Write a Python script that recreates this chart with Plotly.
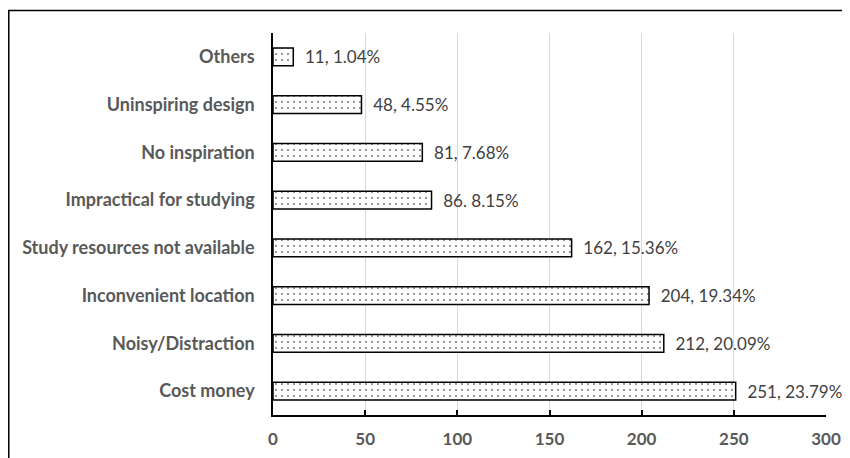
import plotly.graph_objects as go

categories = ["Cost money", "Noisy/Distraction", "Inconvenient location",
              "Study resources not available", "Impractical for studying",
              "No inspiration", "Uninspiring design", "Others"]
counts = [251, 212, 204, 162, 86, 81, 48, 11]
labels = ["251, 23.79%", "212, 20.09%", "204, 19.34%", "162, 15.36%",
          "86. 8.15%", "81, 7.68%", "48, 4.55%", "11, 1.04%"]
x_ticks = [0, 50, 100, 150, 200, 250, 300]

FONT = "Lato"

fig = go.Figure(go.Bar(
    y=categories, x=counts, orientation="h",
    text=["  " + t for t in labels], textposition="outside", cliponaxis=False,
    constraintext="none",
    textfont=dict(family=FONT, size=17, color="#404040"),
    width=0.37,
    marker=dict(color="white",
                line=dict(color="black", width=1.5),
                pattern=dict(shape=".", fgcolor="black", bgcolor="white",
                             size=6, solidity=0.1)),
))

fig.update_layout(
    width=842, height=450,
    margin=dict(l=265, r=24, t=25, b=43),
    paper_bgcolor="white", plot_bgcolor="white",
    showlegend=False,
    xaxis=dict(range=[0, 300], tickvals=x_ticks, showgrid=True,
               gridcolor="#d9d9d9", gridwidth=1.3, zeroline=False,
               showline=True, linecolor="black", linewidth=1.5,
               ticks="inside", ticklen=5, tickcolor="black", tickwidth=1.5,
               tickfont=dict(family=FONT, size=17, color="#595959", weight="bold"),
               ticklabelstandoff=8, automargin=False),
    yaxis=dict(showgrid=False, zeroline=False, showline=True,
               linecolor="black", linewidth=1.5, ticks="",
               tickfont=dict(family=FONT, size=18, color="#595959", weight="bold"),
               ticklabelstandoff=13, range=[-0.5, 7.5], automargin=False),
    shapes=[dict(type="rect", xref="paper", yref="paper",
                 x0=-0.4778, x1=1.2, y0=-0.3, y1=1.0589,
                 line=dict(color="black", width=1.5), layer="below")],
)

fig.write_html("out.html")
